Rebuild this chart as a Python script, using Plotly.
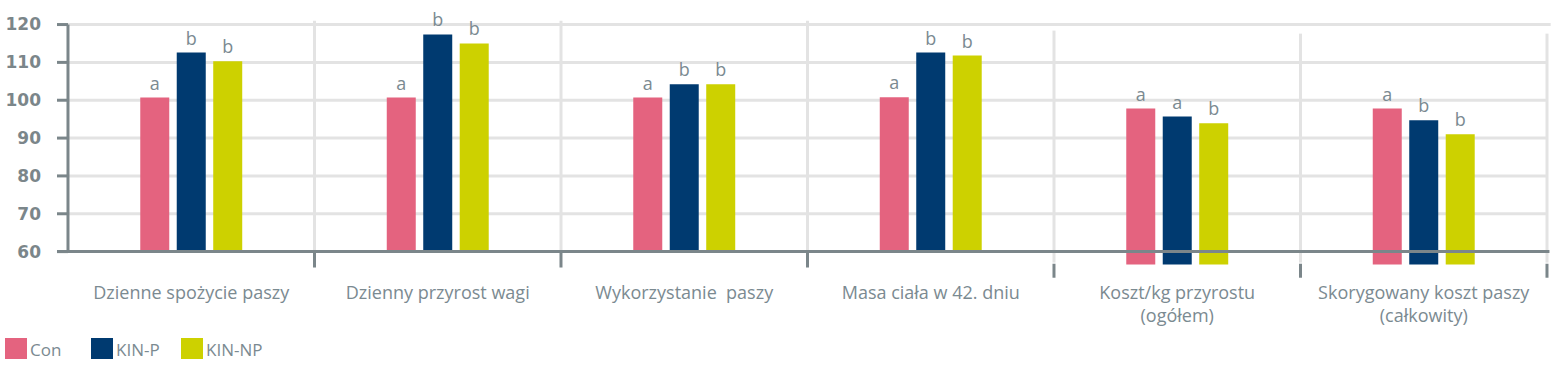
import plotly.graph_objects as go

categories = ["Dzienne spożycie paszy", "Dzienny przyrost wagi", "Wykorzystanie  paszy",
              "Masa ciała w 42. dniu", "Koszt/kg przyrostu<br>(ogółem)",
              "Skorygowany koszt paszy<br>(całkowity)"]
series_names = ["Con", "KIN-P", "KIN-NP"]
con = [100.7, 100.7, 100.7, 100.8, 97.8, 97.8]
kin_p = [112.6, 117.4, 104.2, 112.6, 95.7, 94.7]
kin_np = [110.3, 115.0, 104.2, 111.8, 93.9, 91.0]
con_letters = ["a", "a", "a", "a", "a", "a"]
kin_p_letters = ["b", "b", "b", "b", "a", "b"]
kin_np_letters = ["b", "b", "b", "b", "b", "b"]
bar_base = [60, 60, 60, 60, 56.6, 56.6]
y_ticks = [60, 70, 80, 90, 100, 110, 120]

colors = ["#e4637f", "#003a70", "#cdd100"]
AXIS = "#7b868a"
GRID = "#e3e3e3"
TXT = "#7b8a91"

W, H = 1560, 372
ML, MR, MT, MB = 50, 5, 20, 92
X0 = -0.5730
X1 = 5.5325
Y0, Y1 = 52.5, 121.2
plot_w = W - ML - MR
plot_h = H - MT - MB
kx = plot_w / (X1 - X0)
ky = plot_h / (Y1 - Y0)


def px_to_paper_x(px):
    return (px - ML) / plot_w


def px_to_paper_y(py):
    return (H - MB - py) / plot_h


fig = go.Figure()
all_vals = [con, kin_p, kin_np]
all_letters = [con_letters, kin_p_letters, kin_np_letters]
for name, vals, letters, col in zip(series_names, all_vals, all_letters, colors):
    fig.add_trace(go.Bar(
        x=categories,
        y=[v - b for v, b in zip(vals, bar_base)],
        base=bar_base,
        name=name,
        marker=dict(color=col, line=dict(width=0)),
        text=letters,
        textposition="outside",
        textfont=dict(family="Open Sans", size=18, color=TXT),
        cliponaxis=False,
        constraintext="none",
        showlegend=False,
        hoverinfo="skip",
    ))

shapes = []
n = len(categories)
# horizontal gridlines
for t in y_ticks[1:]:
    shapes.append(dict(type="line", xref="x", yref="y", x0=-0.5, x1=n - 0.5 + (0.015 if t == 120 else 0),
                       y0=t, y1=t, line=dict(color=GRID, width=3), layer="below"))
# y tick marks
for t in y_ticks:
    shapes.append(dict(type="line", xref="x", yref="y", x0=-0.5 - 11 / kx, x1=-0.5,
                       y0=t, y1=t, line=dict(color=AXIS, width=3), layer="above"))
# vertical separators
for i in range(1, n + 1):
    xs = i - 0.5
    if i <= 3:
        top, mid, bot = 121.0, 60, 55.8
    else:
        top = 118.4 if i == 4 else 117.6
        mid, bot = 57.1, 53.1
    shapes.append(dict(type="line", xref="x", yref="y", x0=xs, x1=xs, y0=mid, y1=top,
                       line=dict(color=GRID, width=3), layer="below"))
    shapes.append(dict(type="line", xref="x", yref="y", x0=xs, x1=xs, y0=bot, y1=mid - 0.3,
                       line=dict(color=AXIS, width=3), layer="above"))
# y axis line
shapes.append(dict(type="line", xref="x", yref="y", x0=-0.5, x1=-0.5, y0=60, y1=120,
                   line=dict(color=AXIS, width=3), layer="above"))
# x axis line at 60
shapes.append(dict(type="line", xref="x", yref="y", x0=-0.5 - 11 / kx, x1=n - 0.5 + 0.01,
                   y0=60, y1=60, line=dict(color=AXIS, width=3), layer="above"))

# manual legend
annotations = []
legend_x = [5, 91, 181]
for name, col, lx in zip(series_names, colors, legend_x):
    shapes.append(dict(type="rect", xref="paper", yref="paper",
                       x0=px_to_paper_x(lx), x1=px_to_paper_x(lx + 22),
                       y0=px_to_paper_y(359), y1=px_to_paper_y(338),
                       fillcolor=col, line=dict(width=0)))
    annotations.append(dict(xref="paper", yref="paper", x=px_to_paper_x(lx + 23),
                            y=px_to_paper_y(349), text=name, showarrow=False,
                            xanchor="left", yanchor="middle",
                            font=dict(family="Open Sans", size=17, color=TXT)))

fig.update_layout(
    width=W, height=H,
    margin=dict(l=ML, r=MR, t=MT, b=MB, pad=0),
    paper_bgcolor="white", plot_bgcolor="white",
    barmode="group", bargap=0.556, bargroupgap=0.205,
    shapes=shapes, annotations=annotations,
    xaxis=dict(range=[X0, X1], showgrid=False, zeroline=False, showline=False,
               ticks="", tickfont=dict(family="Open Sans", size=18, color=TXT),
               fixedrange=True),
    yaxis=dict(range=[Y0, Y1], tickvals=y_ticks, showgrid=False, zeroline=False,
               showline=False, ticks="", ticklabelstandoff=8,
               tickfont=dict(family="DejaVu Sans", size=17, color=AXIS, weight=700),
               fixedrange=True),
)

fig.write_html("out.html")
